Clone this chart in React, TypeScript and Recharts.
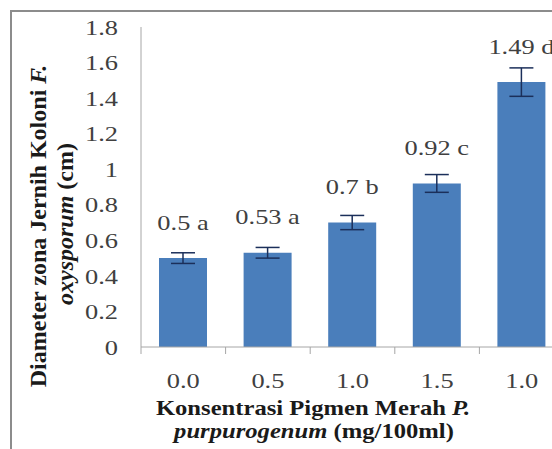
import React from 'react';
import { BarChart, Bar, XAxis, YAxis, ErrorBar, LabelList } from 'recharts';

const categories = ['0.0', '0.5', '1.0', '1.5', '1.0'];
const diameters = [0.5, 0.53, 0.7, 0.92, 1.49];
const errors = [0.03, 0.03, 0.04, 0.05, 0.08];
const labels = ['0.5 a', '0.53 a', '0.7 b', '0.92 c', '1.49 d'];
const yTicks = [0, 0.2, 0.4, 0.6, 0.8, 1, 1.2, 1.4, 1.6, 1.8];

const data = categories.map((c, i) => ({ idx: i, name: c, value: diameters[i], err: errors[i], label: labels[i] }));

const SX = 1.2;
const FONT = '"Liberation Serif", "Times New Roman", serif';
const TXT = '#404040';

const YTick = (props: any) => {
  const { x, y, payload } = props;
  const v = Number(payload.value);
  const s = String(Number(v.toFixed(1)));
  return (
    <text transform={`translate(${x},${y}) scale(${SX},1)`} textAnchor="end" dominantBaseline="central"
      fontFamily={FONT} fontSize={22} fill={TXT}>{s}</text>
  );
};

const XTick = (props: any) => {
  const { x, y, payload, width } = props;
  const half = width / (2 * categories.length);
  const i = payload.index ?? 0;
  return (
    <g>
      <line x1={x - half} x2={x - half} y1={y} y2={y + 7} stroke="#a6a6a6" strokeWidth={1} />
      {i === categories.length - 1 && (
        <line x1={x + half} x2={x + half} y1={y} y2={y + 7} stroke="#a6a6a6" strokeWidth={1} />
      )}
      <text transform={`translate(${x},${y + 33}) scale(${SX},1)`} textAnchor="middle" dominantBaseline="central"
        fontFamily={FONT} fontSize={22} fill={TXT}>{categories[i]}</text>
    </g>
  );
};

const BarLabel = (props: any) => {
  const { x, y, width, index } = props;
  return (
    <text transform={`translate(${x + width / 2},${y - 36}) scale(${SX},1)`} textAnchor="middle" dominantBaseline="central"
      fontFamily={FONT} fontSize={22} fill={TXT}>{labels[index]}</text>
  );
};

export default function App() {
  return (
    <div style={{ position: 'fixed', left: 0, top: 0, width: 552, height: 449, overflow: 'hidden', background: '#fff' }}>
      <div style={{ position: 'absolute', left: 10, top: 10, width: 620, height: 520, borderLeft: '2px solid #8c8c8c', borderTop: '2px solid #8c8c8c', boxSizing: 'border-box' }} />
      <div style={{ position: 'absolute', left: 0, top: 0 }}>
        <BarChart width={600} height={449} data={data} margin={{ top: 27, right: 36, bottom: 0, left: 0 }} barSize={48}>
          <XAxis dataKey="idx" type="category" height={102} tickSize={0} tickMargin={0} axisLine={{ stroke: '#a6a6a6' }}
            tickLine={false} tick={<XTick />} interval={0} />
          <YAxis width={141} domain={[0, 1.8]} ticks={yTicks} tickSize={0} tickMargin={23} tickLine={false}
            axisLine={{ stroke: '#a6a6a6' }} tick={<YTick />} interval={0} />
          <Bar dataKey="value" fill="#4a7ebb" isAnimationActive={false}>
            <ErrorBar dataKey="err" width={12} stroke="#1b2f5a" strokeWidth={1.5} direction="y" />
            <LabelList dataKey="label" content={<BarLabel />} />
          </Bar>
        </BarChart>
      </div>
      <svg width={552} height={449} style={{ position: 'absolute', left: 0, top: 0, pointerEvents: 'none' }}>
        <text transform={`translate(313,407) scale(1.12,1)`} textAnchor="middle" dominantBaseline="central"
          fontFamily={FONT} fontSize={22} fontWeight="bold" fill="#1a1a1a">
          Konsentrasi Pigmen Merah <tspan fontStyle="italic">P.</tspan>
        </text>
        <text transform={`translate(314,430) scale(1.12,1)`} textAnchor="middle" dominantBaseline="central"
          fontFamily={FONT} fontSize={22} fontWeight="bold" fill="#1a1a1a">
          <tspan fontStyle="italic">purpurogenum</tspan> (mg/100ml)
        </text>
        <text transform={`translate(38,226) rotate(-90)`} textAnchor="middle" dominantBaseline="central"
          fontFamily={FONT} fontSize={24} fontWeight="bold" fill="#1a1a1a">
          Diameter zona Jernih Koloni <tspan fontStyle="italic">F.</tspan>
        </text>
        <text transform={`translate(65,224) rotate(-90)`} textAnchor="middle" dominantBaseline="central"
          fontFamily={FONT} fontSize={24} fontWeight="bold" fill="#1a1a1a">
          <tspan fontStyle="italic">oxysporum</tspan> (cm)
        </text>
      </svg>
    </div>
  );
}
